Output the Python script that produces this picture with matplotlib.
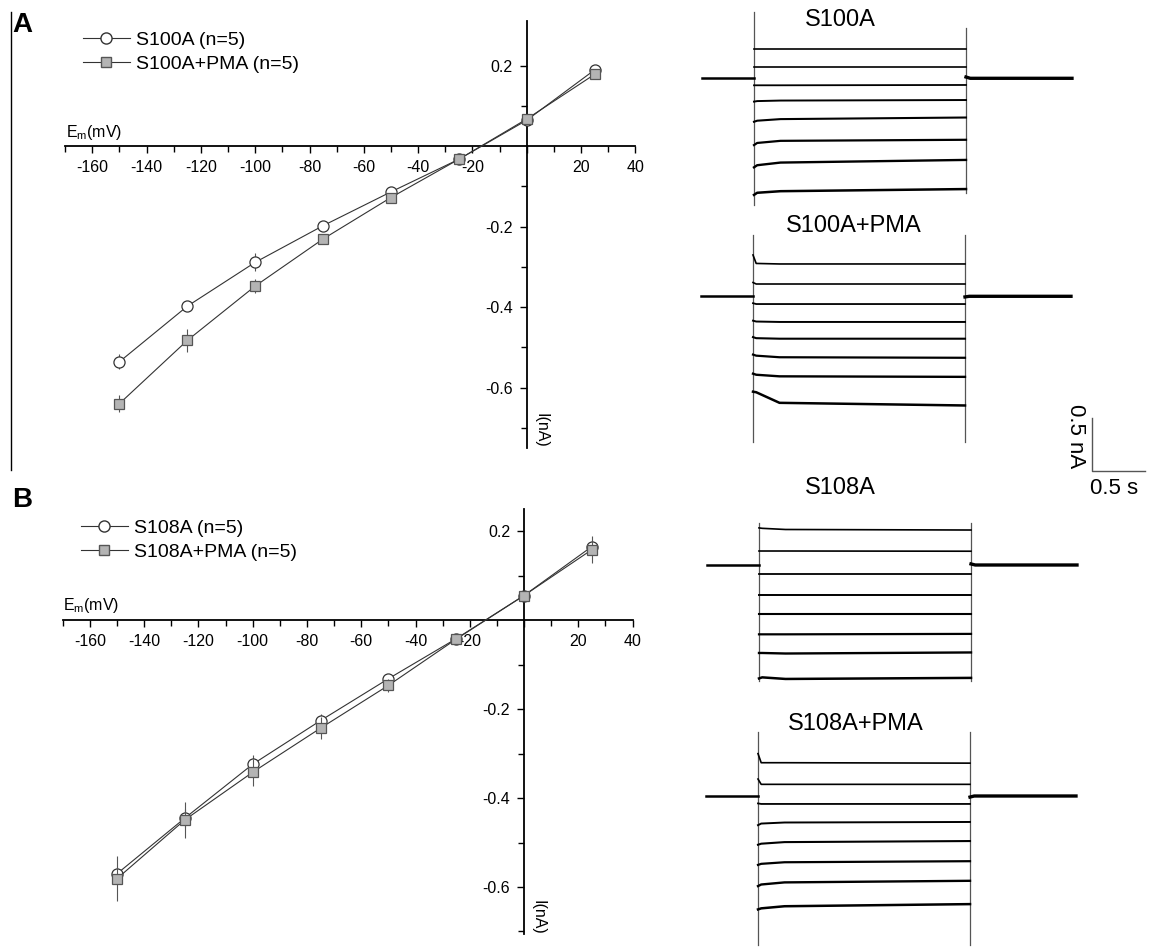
import matplotlib
matplotlib.use('Agg')
import matplotlib.pyplot as plt
from matplotlib.ticker import MultipleLocator, FixedLocator, FuncFormatter
from matplotlib.lines import Line2D

plt.rcParams['font.family'] = ['Liberation Sans', 'DejaVu Sans']
plt.rcParams['mathtext.fontset'] = 'custom'
plt.rcParams['mathtext.rm'] = 'Liberation Sans'

# ---- I-V data (mV, nA) ----
volt = [-150, -125, -100, -75, -50, -25, 0, 25]
s100a = [-0.536, -0.398, -0.289, -0.198, -0.114, -0.033, 0.064, 0.189]
s100a_err = [0.018, 0.012, 0.022, 0.012, 0.008, 0.005, 0.006, 0.008]
s100a_pma = [-0.640, -0.483, -0.348, -0.231, -0.128, -0.033, 0.067, 0.178]
s100a_pma_err = [0.022, 0.028, 0.018, 0.012, 0.008, 0.006, 0.008, 0.008]
s108a = [-0.570, -0.445, -0.324, -0.226, -0.132, -0.042, 0.055, 0.165]
s108a_err = [0.015, 0.02, 0.02, 0.015, 0.01, 0.006, 0.006, 0.008]
s108a_pma = [-0.581, -0.449, -0.342, -0.243, -0.147, -0.043, 0.055, 0.158]
s108a_pma_err = [0.05, 0.04, 0.03, 0.025, 0.015, 0.006, 0.006, 0.03]

# ---- current traces (s, nA relative to holding) ----
t_knots = [0, 0.03, 0.25, 2.0]
t_hold = [-0.49, 0]
t_after = [2.0, 2.04, 3.0]

tr_s100a = [[0.274, 0.274, 0.274, 0.274],
            [0.104, 0.104, 0.104, 0.104],
            [-0.066, -0.066, -0.066, -0.063],
            [-0.22, -0.215, -0.21, -0.205],
            [-0.41, -0.40, -0.385, -0.37],
            [-0.63, -0.61, -0.59, -0.58],
            [-0.84, -0.82, -0.795, -0.77],
            [-1.10, -1.08, -1.065, -1.045]]
tr_s100a_pma = [[0.39, 0.31, 0.305, 0.305],
                [0.13, 0.116, 0.116, 0.116],
                [-0.065, -0.073, -0.073, -0.073],
                [-0.23, -0.238, -0.242, -0.242],
                [-0.385, -0.395, -0.40, -0.40],
                [-0.55, -0.56, -0.575, -0.58],
                [-0.73, -0.74, -0.755, -0.76],
                [-0.90, -0.905, -1.005, -1.03]]
tr_s108a = [[0.35, 0.346, 0.335, 0.33],
            [0.132, 0.132, 0.132, 0.13],
            [-0.082, -0.082, -0.082, -0.082],
            [-0.283, -0.283, -0.283, -0.283],
            [-0.465, -0.465, -0.465, -0.465],
            [-0.654, -0.654, -0.654, -0.65],
            [-0.83, -0.83, -0.835, -0.825],
            [-1.07, -1.06, -1.075, -1.065]]
tr_s108a_pma = [[0.40, 0.314, 0.314, 0.31],
                [0.16, 0.11, 0.11, 0.11],
                [-0.07, -0.075, -0.075, -0.075],
                [-0.275, -0.26, -0.25, -0.245],
                [-0.46, -0.45, -0.435, -0.425],
                [-0.65, -0.64, -0.625, -0.615],
                [-0.85, -0.835, -0.815, -0.80],
                [-1.07, -1.06, -1.04, -1.02]]
# capacitive transient extents at step on / off (top, bottom)
trans_s100a = [(0.625, -1.20), (0.475, -1.08)]
trans_s100a_pma = [(0.58, -1.375), (0.58, -1.375)]
trans_s108a = [(0.40, -1.09), (0.40, -1.09)]
trans_s108a_pma = [(0.60, -1.41), (0.60, -1.41)]
tail_blip = [0.012, -0.006, 0.01, -0.01]
scale_s = 0.5
scale_nA = 0.5

W, H = 1149, 947
fig = plt.figure(figsize=(W / 100, H / 100), dpi=100)


def px_axes(x0, y0, x1, y1):
    return fig.add_axes([x0 / W, 1 - y1 / H, (x1 - x0) / W, (y1 - y0) / H])


def iv_axes(x_zero, px_mv, y_zero, px_na, ylo, yhi):
    xlo, xhi = -170, 40
    ax = px_axes(x_zero + xlo * px_mv, y_zero - yhi * px_na,
                 x_zero + xhi * px_mv, y_zero - ylo * px_na)
    ax.set_xlim(xlo, xhi)
    ax.set_ylim(ylo, yhi)
    ax.patch.set_visible(False)
    for s in ['top', 'right']:
        ax.spines[s].set_visible(False)
    for s in ['left', 'bottom']:
        ax.spines[s].set_position(('data', 0))
        ax.spines[s].set_linewidth(1.3)
    ax.xaxis.set_major_locator(MultipleLocator(20))
    ax.xaxis.set_minor_locator(MultipleLocator(10))
    ax.xaxis.set_major_formatter(FuncFormatter(lambda v, p: '' if abs(v) < 1e-9 else '%d' % v))
    ax.yaxis.set_major_locator(FixedLocator([-0.6, -0.4, -0.2, 0.2]))
    ax.yaxis.set_minor_locator(FixedLocator([-0.7, -0.5, -0.3, -0.1, 0.1]))
    ax.yaxis.set_major_formatter(FuncFormatter(lambda v, p: '%.1f' % v))
    ax.tick_params(which='major', length=5, width=1, labelsize=11.5, pad=5)
    ax.tick_params(which='minor', length=4, width=1)
    return ax


def iv_plot(ax, ctl, ctl_err, pma, pma_err, labels, leg_xy):
    ax.errorbar(volt, ctl, yerr=ctl_err, fmt='-', color='#333333', lw=0.8,
                marker='o', ms=8, mfc='white', mec='#333333', mew=0.9,
                ecolor='#555555', elinewidth=0.8, capsize=0, zorder=3)
    ax.errorbar(volt, pma, yerr=pma_err, fmt='-', color='#333333', lw=0.8,
                marker='s', ms=7, mfc='#b4b4b4', mec='#555555', mew=0.9,
                ecolor='#555555', elinewidth=0.8, capsize=0, zorder=4)
    h1 = Line2D([], [], color='#333333', lw=0.8, marker='o', ms=8, mfc='white', mec='#333333')
    h2 = Line2D([], [], color='#333333', lw=0.8, marker='s', ms=7, mfc='#b4b4b4', mec='#555555')
    ax.legend([h1, h2], labels, loc='upper left', bbox_to_anchor=(leg_xy[0] / W, 1 - leg_xy[1] / H),
              bbox_transform=fig.transFigure, frameon=False, fontsize=14, handlelength=2.4,
              handletextpad=0.3, borderpad=0, borderaxespad=0, labelspacing=0.35)


axA = iv_axes(526.7, 2.715, 146, 402.5, -0.75, 0.31)
iv_plot(axA, s100a, s100a_err, s100a_pma, s100a_pma_err,
        ['S100A (n=5)', 'S100A+PMA (n=5)'], (83, 31))
axB = iv_axes(524, 2.7125, 620, 445, -0.705, 0.25)
iv_plot(axB, s108a, s108a_err, s108a_pma, s108a_pma_err,
        ['S108A (n=5)', 'S108A+PMA (n=5)'], (81, 519))

for (ex, ey), (ix, iy) in [((66, 132), (541, 430)), ((63, 605), (538, 917))]:
    fig.text(ex / W, 1 - ey / H, r'E$_\mathregular{m}$(mV)', fontsize=11.5, ha='left', va='center')
    fig.text(ix / W, 1 - iy / H, 'I(nA)', fontsize=11.5, rotation=270, ha='center', va='center')

fig.text(12 / W, 1 - 25 / H, 'A', fontsize=20, weight='bold', ha='left', va='center')
fig.text(12 / W, 1 - 500 / H, 'B', fontsize=20, weight='bold', ha='left', va='center')
fig.add_artist(Line2D([11 / W, 11 / W], [1 - 12 / H, 1 - 470 / H], color='k', lw=1))

# ---- trace panels ----
PX = 106.0  # px per s and per nA
trace_lw = [1.2, 1.2, 1.3, 1.4, 1.5, 1.6, 1.7, 1.8]


def trace_panel(tx, by, y_top, y_bot, traces, trans, blip, title, title_xy):
    ax = px_axes(690, y_top, W, y_bot)
    ax.set_xlim((690 - tx) / PX, (W - tx) / PX)
    ax.set_ylim((by - y_bot) / PX, (by - y_top) / PX)
    ax.axis('off')
    for (top, bot), t in zip(trans, [0, 2.0]):
        ax.plot([t, t], [bot, top], color='#555555', lw=0.9)
    for vals, lw in zip(traces, trace_lw):
        ax.plot(t_knots, vals, color='k', lw=lw)
    ax.plot(t_hold, [0, 0], color='k', lw=1.8)
    ax.plot(t_after, [blip, 0, 0], color='k', lw=2.4)
    fig.text(title_xy[0] / W, 1 - title_xy[1] / H, title, fontsize=17, ha='center', va='center')
    return ax


trace_panel(754, 78.3, 0, 215, tr_s100a, trans_s100a, tail_blip[0], 'S100A', (840, 20))
axA2 = trace_panel(753, 296.3, 215, 480, tr_s100a_pma, trans_s100a_pma, tail_blip[1],
                   'S100A+PMA', (854, 226))
trace_panel(759, 565, 480, 700, tr_s108a, trans_s108a, tail_blip[2], 'S108A', (840, 488))
trace_panel(758, 796, 700, H, tr_s108a_pma, trans_s108a_pma, tail_blip[3], 'S108A+PMA', (856, 724))

# scale bar
sx, sy = (1092 - 753) / PX, (296.3 - 471) / PX
axA2.plot([sx, sx, sx + scale_s], [sy + scale_nA, sy, sy], color='#555555', lw=1, clip_on=False)
fig.text(1076 / W, 1 - 436 / H, '0.5 nA', fontsize=16, rotation=270, ha='center', va='center')
fig.text(1114 / W, 1 - 488 / H, '0.5 s', fontsize=16, ha='center', va='center')

fig.savefig('out.png', dpi=100)
